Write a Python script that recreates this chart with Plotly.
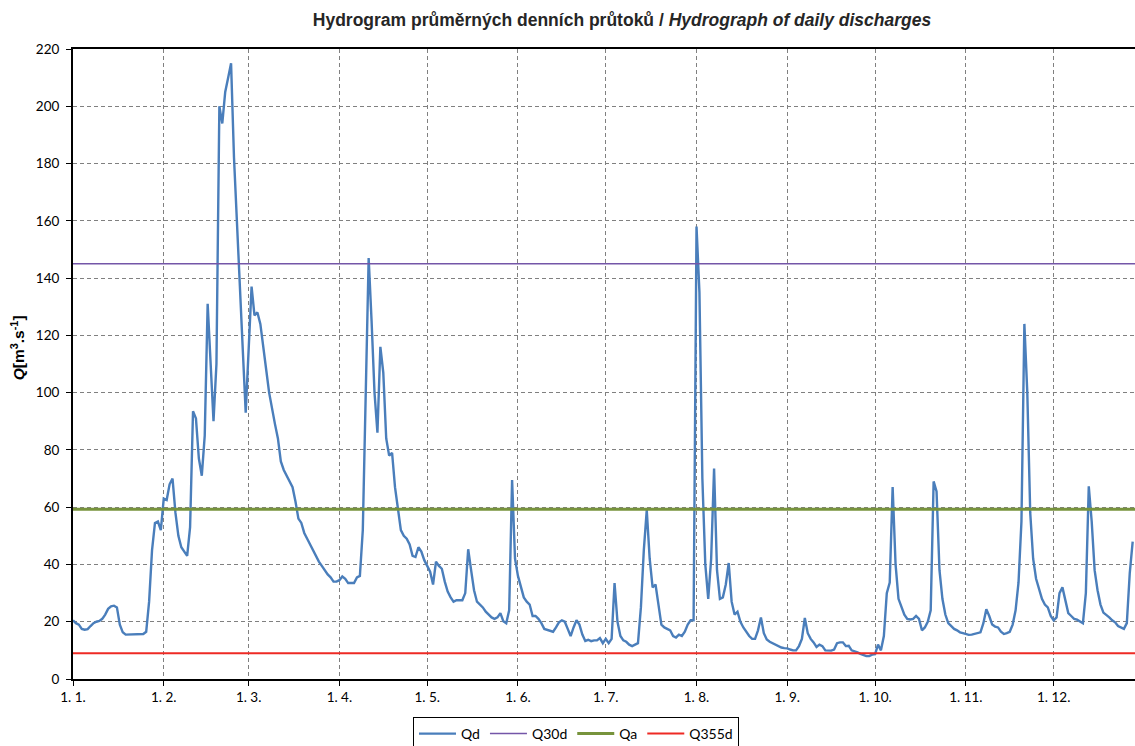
import pandas as pd
import plotly.graph_objects as go

# Qd – daily mean discharge [m3/s], one list per month (leap year)
qd_jan = [20.5, 19.5, 19.0, 17.5, 17.2, 17.4, 18.5, 19.5, 20.0, 20.3, 21.0, 22.5, 24.5, 25.4, 25.6, 25.0,
          19.0, 16.3, 15.5, 15.5, 15.6, 15.6, 15.6, 15.6, 15.7, 16.5, 27.0, 45.0, 54.5, 55.0, 52.0]
qd_feb = [63.0, 62.5, 68.0, 70.0, 58.0, 50.0, 46.0, 44.5, 43.0, 53.0, 93.5, 91.0, 77.0, 71.0, 85.0,
          131.0, 110.0, 90.0, 110.0, 200.0, 194.0, 205.0, 210.0, 215.0, 182.0, 158.0, 135.0, 115.0, 93.0]
qd_mar = [115.0, 137.0, 127.0, 128.0, 124.0, 115.0, 108.0, 100.0, 94.0, 89.0, 84.0, 76.0, 73.0, 71.0, 69.0,
          67.0, 62.0, 56.0, 54.5, 51.0, 49.0, 47.0, 44.5, 43.0, 41.0, 39.5, 38.0, 36.5, 35.5, 34.0, 34.0]
qd_apr = [34.5, 35.8, 35.0, 33.5, 33.5, 33.5, 35.5, 36.0, 52.0, 100.0, 147.0, 125.0, 100.0, 86.0, 116.0,
          107.0, 84.0, 78.0, 79.0, 67.0, 60.0, 52.0, 50.0, 49.0, 47.0, 43.0, 42.6, 46.0, 44.5, 41.5]
qd_may = [39.5, 37.5, 33.0, 41.0, 39.5, 38.5, 34.0, 30.5, 28.5, 27.0, 27.5, 27.5, 27.5, 30.0, 45.3, 38.0,
          31.0, 27.0, 26.0, 25.0, 23.5, 22.3, 21.5, 21.0, 21.5, 23.0, 20.2, 19.5, 24.0, 69.5, 42.0]
qd_jun = [36.0, 32.0, 28.5, 27.0, 26.0, 22.0, 22.0, 21.0, 19.5, 17.5, 17.2, 17.0, 16.5, 18.0, 19.8, 20.5,
          20.0, 17.5, 15.0, 18.0, 20.5, 19.0, 15.5, 13.3, 13.7, 13.2, 13.5, 13.5, 14.3, 12.5]
qd_jul = [14.0, 12.5, 14.0, 33.5, 20.0, 15.0, 13.5, 13.0, 12.0, 11.5, 12.0, 12.5, 25.0, 45.0, 59.0, 42.0,
          32.0, 33.0, 26.0, 19.0, 18.0, 17.5, 17.0, 15.0, 14.5, 15.5, 15.0, 16.5, 19.0, 20.5, 20.5]
qd_aug = [158.0, 135.0, 70.0, 40.0, 28.0, 42.0, 73.5, 38.0, 28.0, 28.5, 33.0, 40.5, 27.0, 22.5, 23.5, 20.0,
          18.0, 16.5, 15.0, 14.0, 14.0, 17.0, 21.5, 16.0, 13.8, 13.0, 12.5, 12.0, 11.5, 11.0, 10.8]
qd_sep = [10.7, 10.3, 10.0, 10.0, 11.5, 14.0, 21.3, 16.0, 14.0, 12.8, 11.2, 12.0, 11.5, 10.0, 10.0, 9.9,
          10.3, 12.5, 12.8, 12.8, 11.5, 11.6, 10.0, 9.7, 9.3, 8.8, 8.3, 8.0, 8.0, 8.5]
qd_oct = [8.7, 12.0, 10.0, 15.0, 30.0, 33.7, 67.0, 40.0, 28.0, 25.0, 22.5, 21.0, 20.8, 21.0, 22.0, 21.0,
          17.0, 18.0, 20.0, 24.0, 69.0, 65.5, 38.0, 28.0, 22.5, 19.5, 18.5, 17.5, 17.0, 16.3, 16.0]
qd_nov = [15.7, 15.4, 15.5, 15.7, 16.0, 16.3, 19.5, 24.4, 22.0, 19.0, 18.3, 18.0, 16.5, 15.7, 16.0, 16.5,
          19.0, 24.0, 33.7, 55.0, 124.0, 100.0, 58.0, 42.0, 35.0, 31.0, 28.0, 26.0, 25.0, 22.0]
qd_dec = [20.5, 21.5, 30.0, 32.0, 27.0, 23.0, 22.0, 21.0, 20.7, 20.0, 19.5, 30.0, 67.3, 55.0, 38.0, 31.0,
          26.0, 23.2, 22.5, 21.5, 20.5, 19.8, 18.5, 18.0, 17.5, 19.5, 37.0, 48.0]

qd = (qd_jan + qd_feb + qd_mar + qd_apr + qd_may + qd_jun
      + qd_jul + qd_aug + qd_sep + qd_oct + qd_nov + qd_dec)
days = pd.date_range("2024-01-01", periods=len(qd), freq="D")

# characteristic discharges [m3/s]
q30d = 145.0
qa = 59.3
q355d = 9.0

month_starts = pd.date_range("2024-01-01", periods=12, freq="MS")
month_labels = [f"1. {m}." for m in range(1, 13)]
y_ticks = list(range(0, 221, 20))

_TICK_FONT = dict(family="Lato, Liberation Sans, sans-serif", size=13.5, color="#000000")
_GRID = "#808080"

W, H = 1135, 746

line_x = [days[0], pd.Timestamp("2024-12-31")]

fig = go.Figure()
fig.add_trace(go.Scatter(x=days, y=qd, mode="lines", name="Qd",
                         line=dict(color="#4a7ebb", width=2.4)))
fig.add_trace(go.Scatter(x=line_x, y=[q30d, q30d], mode="lines", name="Q30d",
                         line=dict(color="#7456a8", width=1.5)))
fig.add_trace(go.Scatter(x=line_x, y=[qa, qa], mode="lines", name="Qa",
                         line=dict(color="#77933c", width=3)))
fig.add_trace(go.Scatter(x=line_x, y=[q355d, q355d], mode="lines", name="Q355d",
                         line=dict(color="#ee2a24", width=2)))

fig.update_layout(
    width=W,
    height=H,
    margin=dict(l=73, r=0, t=49, b=67, autoexpand=False),
    paper_bgcolor="#ffffff",
    plot_bgcolor="#ffffff",
    title=dict(
        text="<b>Hydrogram průměrných denních průtoků / <i>Hydrograph of daily discharges</i></b>",
        font=dict(family="Liberation Sans, Arial, sans-serif", size=17.5, color="#262626"),
        x=622 / W, xref="container", xanchor="center",
        y=1 - 20 / H, yref="container", yanchor="middle",
    ),
    xaxis=dict(
        range=[pd.Timestamp("2024-01-01"), pd.Timestamp("2024-12-28 19:00")],
        tickvals=month_starts, ticktext=month_labels,
        tickfont=_TICK_FONT, ticks="outside", ticklen=5, tickcolor="#000000",
        showline=True, linecolor="#000000", linewidth=2, mirror=True,
        showgrid=True, gridcolor=_GRID, gridwidth=1, griddash="4px,3px",
        zeroline=False,
    ),
    yaxis=dict(
        range=[0, 220], tickvals=y_ticks,
        tickfont=_TICK_FONT, ticks="outside", ticklen=5, tickcolor="#000000",
        ticklabelstandoff=4,
        showline=True, linecolor="#000000", linewidth=2,
        showgrid=True, gridcolor=_GRID, gridwidth=1, griddash="4px,3px",
        zeroline=False,
    ),
    legend=dict(
        orientation="h",
        x=(413 - 73) / 1062, xanchor="left",
        y=-(717 - 679) / 630, yanchor="top",
        bordercolor="#000000", borderwidth=1, bgcolor="#ffffff",
        font=dict(family="Lato, Liberation Sans, sans-serif", size=14, color="#000000"),
        itemwidth=37,
    ),
    showlegend=True,
    annotations=[
        dict(
            text="<b><i>Q</i>[m<sup>3</sup>.s<sup>-1</sup>]</b>",
            xref="paper", yref="paper",
            x=(18 - 73) / 1062, y=0.525,
            xanchor="center", yanchor="middle",
            textangle=-90, showarrow=False,
            font=dict(family="Liberation Sans, Arial, sans-serif", size=15.5, color="#000000"),
        )
    ],
)

# drop the browser's default body margin so the figure fills the window exactly
fig.write_html(
    "out.html",
    config={"displayModeBar": False},
    post_script="document.body.style.margin='0';document.body.style.overflow='hidden';",
)
